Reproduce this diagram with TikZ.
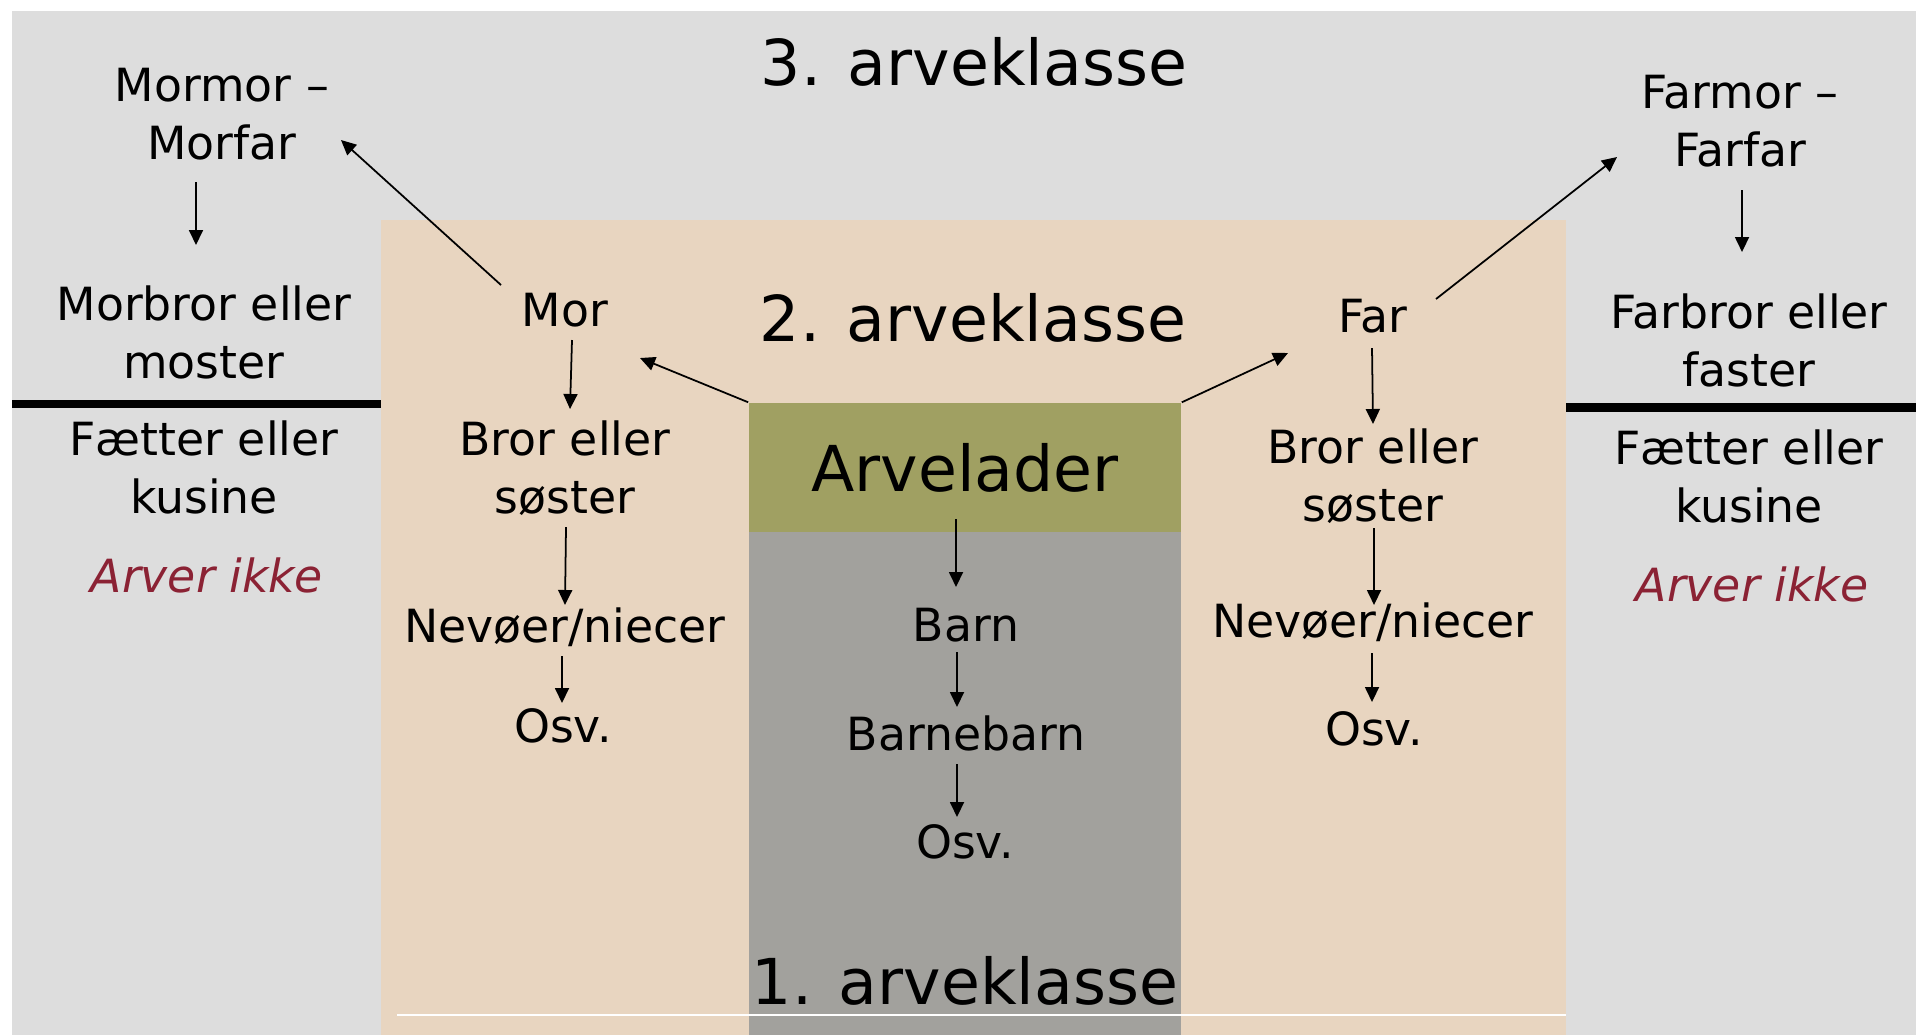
\documentclass[tikz,border=0pt]{standalone}
\usepackage{fontspec}
\setmainfont{DejaVu Sans}
\usetikzlibrary{arrows.meta,calc}

\definecolor{bggrey}{RGB}{221,221,221}
\definecolor{sand}{RGB}{232,213,192}
\definecolor{arvgreen}{RGB}{160,160,98}
\definecolor{stone}{RGB}{162,161,157}
\definecolor{wine}{RGB}{139,34,52}

\tikzset{
  arr/.style={-{Triangle[length=0.15cm,width=0.14cm]},line width=0.5pt},
  lbl/.style={inner sep=0pt,align=center,font=\fontsize{13pt}{16.5pt}\selectfont},
  big/.style={inner sep=0pt,font=\fontsize{18pt}{22pt}\selectfont},
  nope/.style={lbl,text=wine,font=\fontsize{13pt}{16.5pt}\selectfont\itshape}
}

\begin{document}
\begin{tikzpicture}[x=0.01cm,y=-0.01cm]
\useasboundingbox (0,0) rectangle (1916,1035);
\fill[bggrey] (12,11) rectangle (1916,1035);
\fill[sand] (381,220) rectangle (1566,1035);
\fill[stone] (749,532) rectangle (1181,1035);
\draw[white,line width=0.5pt] (397,1015) -- (1566,1015);
\fill (12,400) rectangle (381,408);
\fill (1566,403) rectangle (1916,412);

\node[big] (kl3) at (974,62) {3. arveklasse};
\node[big] (kl2) at (973,318) {2. arveklasse};
\node[big] (kl1) at (965,981) {1. arveklasse};
\node[big,fill=arvgreen,minimum width=4.32cm,minimum height=1.29cm] (arv) at (965,467.5) {Arvelader};

\node[lbl] (mormor) at (222,114.5) {Mormor –\\Morfar};
\node[lbl] (morbror) at (204,332) {Morbror eller\\moster};
\node[lbl] (fetterL) at (204,467.5) {Fætter eller\\kusine};
\node[nope] (arverL) at (207,575.5) {Arver ikke};

\node[lbl] (mor) at (565,310) {Mor};
\node[lbl] (brorL) at (565,468) {Bror eller\\søster};
\node[lbl] (nevL) at (565,627.5) {Nevøer/niecer};
\node[lbl] (osvL) at (563,726) {Osv.};

\node[lbl] (barn) at (966,625) {Barn};
\node[lbl] (barnebarn) at (966,733) {Barnebarn};
\node[lbl] (osvM) at (965,842) {Osv.};

\node[lbl] (far) at (1373,316.5) {Far};
\node[lbl] (brorR) at (1373,476.5) {Bror eller\\søster};
\node[lbl] (nevR) at (1373,622) {Nevøer/niecer};
\node[lbl] (osvR) at (1374,729) {Osv.};

\node[lbl] (farmor) at (1740,121) {Farmor –\\Farfar};
\node[lbl] (farbror) at (1749,340.5) {Farbror eller\\faster};
\node[lbl] (fetterR) at (1749,476) {Fætter eller\\kusine};
\node[nope] (arverR) at (1752,584.5) {Arver ikke};

\draw[arr] ($(mormor)+(-26,67.5)$) -- ($(morbror)+(-8,-87)$);
\draw[arr] ($(farmor)+(2,69)$) -- ($(farbror)+(-7,-88.5)$);
\draw[arr] ($(mor)+(7,30)$) -- ($(brorL)+(5,-59)$);
\draw[arr] ($(brorL)+(1,59)$) -- ($(nevL)+(0,-22.5)$);
\draw[arr] ($(nevL)+(-3,28.5)$) -- ($(osvL)+(-1,-23)$);
\draw[arr] ($(arv)+(-9,51.5)$) -- ($(barn)+(-10,-38)$);
\draw[arr] ($(barn)+(-9,27)$) -- ($(barnebarn)+(-9,-26)$);
\draw[arr] ($(barnebarn)+(-9,31)$) -- ($(osvM)+(-8,-25)$);
\draw[arr] ($(far)+(-1,31.5)$) -- ($(brorR)+(0,-52.5)$);
\draw[arr] ($(brorR)+(1,51.5)$) -- ($(nevR)+(1,-17)$);
\draw[arr] ($(nevR)+(-1,31)$) -- ($(osvR)+(-2,-27)$);
\draw[arr] (arv.north west) -- ($(mor)+(75,48)$);
\draw[arr] (arv.north east) -- ($(far)+(-85,36.5)$);
\draw[arr] ($(mor)+(-64,-25)$) -- ($(mormor)+(119,25.5)$);
\draw[arr] ($(far)+(63,-17.5)$) -- ($(farmor)+(-123,36)$);
\end{tikzpicture}
\end{document}
